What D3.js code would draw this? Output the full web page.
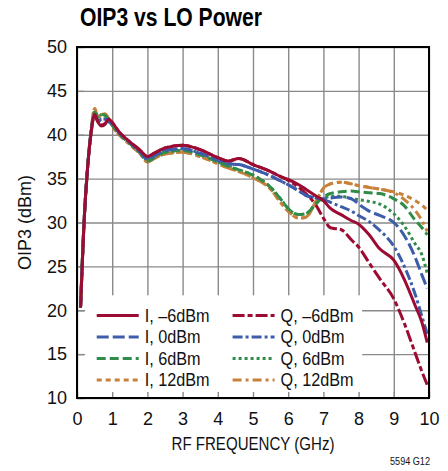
<!DOCTYPE html>
<html>
  <head>
    <meta charset="utf-8" />
    <script src="https://d3js.org/d3.v7.min.js"></script>
    <style>
      body { margin: 0; background: #fff; }
      text { font-family: "Liberation Sans", Arial, sans-serif; }
    </style>
  </head>
  <body>
    <div id="my_dataviz"></div>
    <script>
      // frequencies (GHz) shared by every trace
      var freq = [0.1, 0.2, 0.3, 0.4, 0.5, 0.6, 0.7, 0.8, 0.9, 1.0,
        1.2, 1.5, 1.8, 2.0, 2.2, 2.5, 3.0, 3.5, 4.0, 4.3,
        4.6, 5.0, 5.5, 5.8, 6.0, 6.3, 6.5, 6.8, 7.0, 7.2,
        7.5, 7.8, 8.0, 8.3, 8.6, 9.0, 9.3, 9.6, 9.8, 9.95];

      // OIP3 (dBm)
      var iM6 = [20.3, 30.0, 36.2, 40.2, 42.3, 41.4, 41.0, 41.2, 41.8, 41.4,
        40.3, 39.2, 38.2, 37.5, 37.9, 38.5, 38.8, 38.3, 37.4, 37.0,
        37.3, 36.6, 35.8, 35.2, 34.9, 34.3, 33.8, 33.0, 32.5, 31.6,
        30.9, 30.2, 29.8, 28.6, 27.0, 25.7, 23.5, 20.6, 18.6, 16.3];
      var qM6 = [20.3, 30.0, 36.2, 40.2, 42.4, 41.5, 41.1, 41.3, 41.8, 41.4,
        40.3, 39.2, 38.2, 37.5, 37.9, 38.5, 38.8, 38.3, 37.4, 37.0,
        37.3, 36.6, 35.8, 35.2, 34.8, 34.0, 33.3, 31.9, 30.5, 29.4,
        29.2, 28.0, 27.2, 25.4, 23.6, 21.3, 18.5, 15.2, 13.0, 11.5];
      var i0 = [20.3, 30.0, 36.2, 40.3, 42.3, 41.5, 41.8, 41.8, 41.5, 41.2,
        40.2, 39.1, 38.0, 37.2, 37.6, 38.2, 38.4, 37.9, 37.1, 36.7,
        36.6, 36.1, 35.3, 34.7, 34.3, 33.6, 33.1, 32.8, 32.7, 32.8,
        32.9, 32.7, 32.1, 31.3, 30.8, 30.0, 28.5, 26.1, 24.0, 22.5];
      var q0 = [20.3, 30.0, 36.2, 40.3, 42.3, 41.5, 41.8, 41.8, 41.5, 41.2,
        40.2, 39.1, 38.0, 37.2, 37.6, 38.2, 38.4, 37.9, 37.1, 36.7,
        36.6, 36.1, 35.3, 34.7, 34.3, 33.6, 33.1, 32.8, 32.6, 32.3,
        31.8, 31.3, 30.8, 30.1, 29.1, 27.3, 25.0, 21.9, 19.3, 17.3];
      var i6 = [20.3, 30.0, 36.2, 40.4, 42.6, 42.0, 42.3, 42.2, 41.7, 41.1,
        40.1, 39.0, 37.9, 37.0, 37.4, 38.0, 38.2, 37.7, 36.9, 36.4,
        36.0, 35.4, 34.0, 32.6, 31.6, 30.9, 31.0, 32.2, 32.9, 33.3,
        33.5, 33.6, 33.5, 33.4, 33.3, 32.7, 31.9, 30.3, 29.4, 28.6];
      var q6 = [20.3, 30.0, 36.2, 40.4, 42.6, 42.0, 42.3, 42.2, 41.7, 41.1,
        40.1, 39.0, 37.9, 37.0, 37.4, 38.0, 38.2, 37.7, 36.9, 36.4,
        36.0, 35.4, 34.0, 32.6, 31.6, 30.9, 31.0, 32.2, 32.7, 33.0,
        33.0, 32.7, 32.6, 32.4, 32.1, 31.0, 29.6, 27.6, 26.3, 24.2];
      var i12 = [20.3, 30.0, 36.2, 40.5, 43.0, 42.0, 42.3, 42.4, 41.8, 41.0,
        40.0, 38.9, 37.8, 36.9, 37.3, 37.8, 38.0, 37.5, 36.7, 36.2,
        35.8, 35.1, 33.8, 32.2, 31.3, 30.5, 30.6, 32.5, 33.9, 34.4,
        34.6, 34.4, 34.2, 34.0, 33.8, 33.5, 33.1, 32.5, 32.0, 31.4];
      var q12 = [20.3, 30.0, 36.2, 40.5, 43.0, 42.0, 42.3, 42.4, 41.8, 41.0,
        40.0, 38.9, 37.8, 36.9, 37.3, 37.8, 38.0, 37.5, 36.7, 36.2,
        35.8, 35.1, 33.8, 32.2, 31.3, 30.5, 30.6, 32.5, 33.9, 34.4,
        34.6, 34.4, 34.2, 34.0, 33.8, 33.4, 32.6, 31.4, 30.2, 29.0];

      var labels = ["I, \u20136dBm", "I, 0dBm", "I, 6dBm", "I, 12dBm",
        "Q, \u20136dBm", "Q, 0dBm", "Q, 6dBm", "Q, 12dBm"];
      var xTicks = [0, 1, 2, 3, 4, 5, 6, 7, 8, 9, 10];
      var yTicks = [10, 15, 20, 25, 30, 35, 40, 45, 50];

      var red = "#9c0b32", blue = "#3d5dab", green = "#2f8d49", orange = "#c8813a";
      var series = [
        { name: labels[0], values: iM6, color: red, dash: null },
        { name: labels[1], values: i0, color: blue, dash: "12,4" },
        { name: labels[2], values: i6, color: green, dash: "9,4" },
        { name: labels[3], values: i12, color: orange, dash: "5,4" },
        { name: labels[4], values: qM6, color: red, dash: "12,3,5,3" },
        { name: labels[5], values: q0, color: blue, dash: "10,3,3,3" },
        { name: labels[6], values: q6, color: green, dash: "3,3" },
        { name: labels[7], values: q12, color: orange, dash: "9,4,3,4" }
      ];

      var margin = { top: 47, right: 19, bottom: 73, left: 77 },
        width = 448 - margin.left - margin.right,
        height = 471 - margin.top - margin.bottom;

      // squeeze text horizontally to imitate the condensed face of the original
      function condense(sel, factor) {
        sel.each(function () {
          var w = this.getComputedTextLength();
          d3.select(this).attr("textLength", w * factor).attr("lengthAdjust", "spacingAndGlyphs");
        });
      }

      var svgRoot = d3.select("#my_dataviz").append("svg")
        .attr("width", 448).attr("height", 471);

      svgRoot.append("text")
        .attr("x", 80).attr("y", 26)
        .style("font-weight", "bold").style("font-size", "26px")
        .attr("textLength", 182).attr("lengthAdjust", "spacingAndGlyphs")
        .text("OIP3 vs LO Power");

      var svg = svgRoot.append("g")
        .attr("transform", "translate(" + margin.left + "," + margin.top + ")");

      var x = d3.scaleLinear().domain([0, 10]).range([0, width]);
      var y = d3.scaleLinear().domain([10, 50]).range([height, 0]);

      // grid
      svg.append("g").call(d3.axisBottom(x).tickValues(xTicks).tickSize(-height).tickFormat(""))
        .attr("transform", "translate(0," + height + ")")
        .call(function (g) { g.select(".domain").remove(); })
        .selectAll("line").attr("stroke", "#8a8a8a").attr("stroke-width", 1.4);
      svg.append("g").call(d3.axisLeft(y).tickValues(yTicks).tickSize(-width).tickFormat(""))
        .call(function (g) { g.select(".domain").remove(); })
        .selectAll("line").attr("stroke", "#8a8a8a").attr("stroke-width", 1.4);

      // legend background hides the grid
      var legX = x(0.23), legY = y(21.7);
      svg.append("rect")
        .attr("x", legX).attr("y", legY)
        .attr("width", x(8.1) - legX).attr("height", height - legY)
        .attr("fill", "#fff");

      // short inward ticks
      svg.append("g").attr("transform", "translate(0," + height + ")")
        .call(d3.axisTop(x).tickValues(xTicks).tickSize(6).tickFormat(""))
        .call(function (g) { g.select(".domain").remove(); })
        .selectAll("line").attr("stroke", "#8a8a8a").attr("stroke-width", 1.4);
      svg.append("g")
        .call(d3.axisRight(y).tickValues(yTicks).tickSize(7).tickFormat(""))
        .call(function (g) { g.select(".domain").remove(); })
        .selectAll("line").attr("stroke", "#8a8a8a").attr("stroke-width", 1.4);

      // tick labels
      svg.append("g").attr("transform", "translate(0," + height + ")")
        .call(d3.axisBottom(x).tickValues(xTicks).tickSize(0).tickPadding(14).tickFormat(d3.format("d")))
        .call(function (g) { g.select(".domain").remove(); })
        .selectAll("text").style("font-size", "18px").attr("fill", "#111");
      svg.append("g")
        .call(d3.axisLeft(y).tickValues(yTicks).tickSize(0).tickPadding(10).tickFormat(d3.format("d")))
        .call(function (g) { g.select(".domain").remove(); })
        .selectAll("text").style("font-size", "18px").attr("fill", "#111");

      // traces
      var line = d3.line()
        .x(function (d, i) { return x(freq[i]); })
        .y(function (d) { return y(d); })
        .curve(d3.curveMonotoneX);

      svg.selectAll(".trace")
        .data(series.slice().reverse())
        .enter().append("path")
        .attr("class", "trace")
        .attr("d", function (d) { return line(d.values); })
        .attr("fill", "none")
        .attr("stroke", function (d) { return d.color; })
        .attr("stroke-width", 3)
        .attr("stroke-dasharray", function (d) { return d.dash; });

      // frame
      svg.append("rect")
        .attr("width", width).attr("height", height)
        .attr("fill", "none").attr("stroke", "#000").attr("stroke-width", 2);

      // legend
      var leg = svg.selectAll(".leg")
        .data(series)
        .enter().append("g")
        .attr("transform", function (d, i) {
          var col = Math.floor(i / 4), row = i % 4;
          return "translate(" + (x(0.56) + col * x(3.86)) + "," + (y(19.4) + row * 21.5) + ")";
        });
      leg.append("line")
        .attr("x1", 0).attr("x2", 42)
        .attr("stroke", function (d) { return d.color; })
        .attr("stroke-width", 3)
        .attr("stroke-dasharray", function (d) { return d.dash; });
      leg.append("text")
        .attr("x", 48).attr("dy", "0.35em")
        .style("font-size", "18px").attr("fill", "#111")
        .text(function (d) { return d.name; })
        .call(condense, 0.9);

      // axis titles
      svgRoot.append("text")
        .attr("x", margin.left + width / 2).attr("y", 450)
        .attr("text-anchor", "middle").style("font-size", "18px").attr("fill", "#111")
        .attr("textLength", 163).attr("lengthAdjust", "spacingAndGlyphs")
        .text("RF FREQUENCY (GHz)");
      svgRoot.append("text")
        .attr("transform", "translate(31," + (margin.top + height / 2) + ") rotate(-90)")
        .attr("text-anchor", "middle").style("font-size", "18px").attr("fill", "#111")
        .attr("textLength", 95).attr("lengthAdjust", "spacingAndGlyphs")
        .text("OIP3 (dBm)");
      svgRoot.append("text")
        .attr("x", 430).attr("y", 465)
        .attr("text-anchor", "end").style("font-size", "11px").attr("fill", "#111")
        .attr("textLength", 40).attr("lengthAdjust", "spacingAndGlyphs")
        .text("5594 G12");
    </script>
  </body>
</html>
